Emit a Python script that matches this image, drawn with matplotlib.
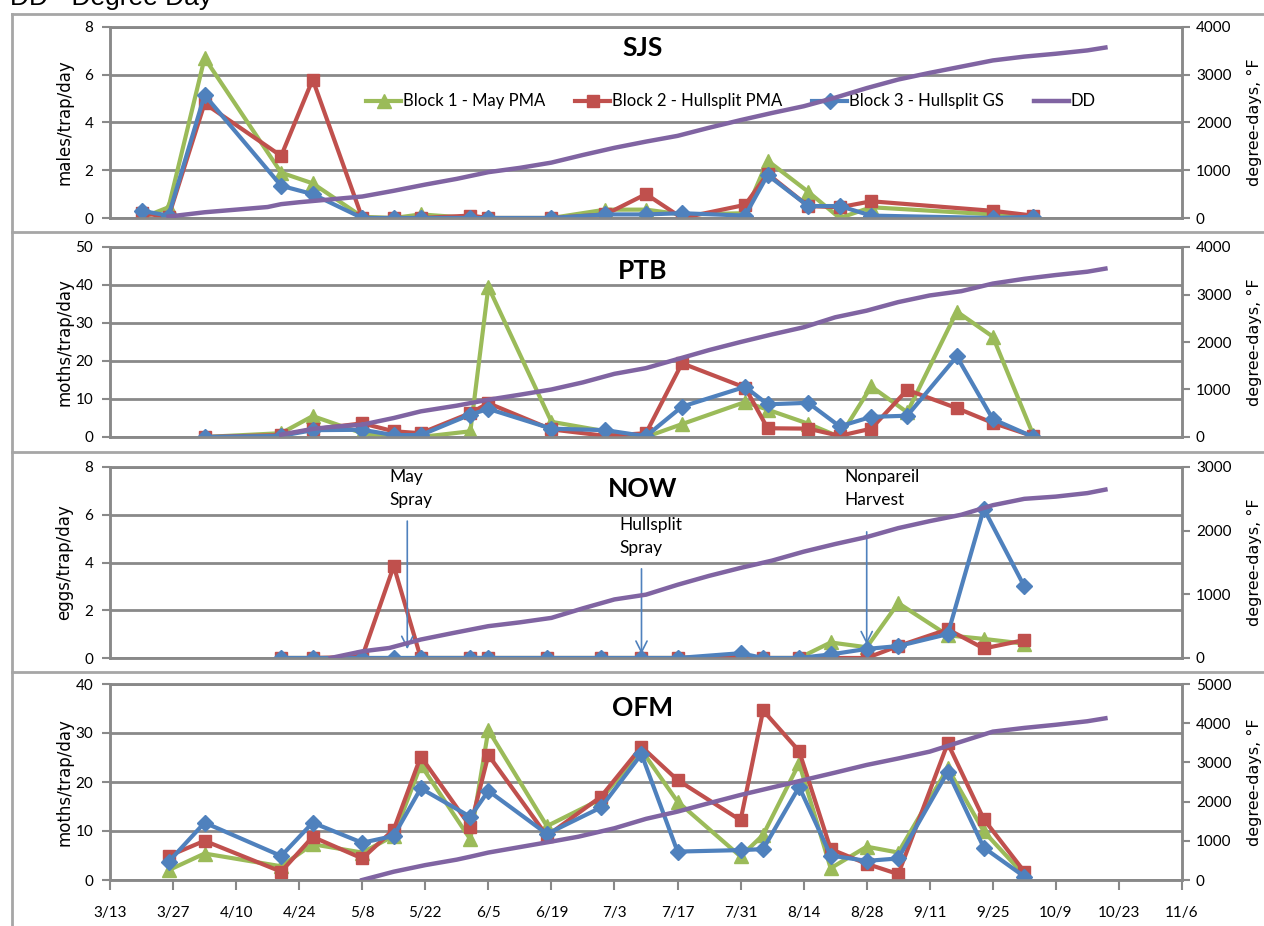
import numpy as np
import pandas as pd
import matplotlib
matplotlib.use("Agg")
import matplotlib.pyplot as plt
from matplotlib.lines import Line2D

YEAR = 2010

# ---- SJS (males/trap/day) ----
sjs_dates = ["3/20", "3/26", "4/3", "4/20", "4/27", "5/8", "5/15", "5/21", "6/1", "6/5", "6/19",
             "7/1", "7/10", "7/18", "8/1", "8/6", "8/15", "8/22", "8/29", "9/25", "10/4"]
sjs_b1 = [0.0, 0.45, 6.7, 1.9, 1.45, 0.05, 0.0, 0.15, 0.0, 0.0, 0.0,
          0.35, 0.35, 0.15, 0.2, 2.4, 1.1, 0.0, 0.45, 0.15, 0.1]
sjs_b2 = [0.2, 0.05, 4.8, 2.6, 5.8, 0.0, 0.0, 0.0, 0.1, 0.0, 0.0,
          0.15, 1.0, 0.0, 0.55, 1.85, 0.5, 0.45, 0.7, 0.3, 0.1]
sjs_b3 = [0.3, 0.1, 5.15, 1.35, 1.0, 0.0, 0.0, 0.0, 0.0, 0.0, 0.0,
          0.15, 0.15, 0.2, 0.1, 1.8, 0.5, 0.5, 0.1, 0.0, 0.05]
sjs_dd_dates = ["3/26", "4/3", "4/10", "4/17", "4/20", "4/24", "5/1", "5/8", "5/15", "5/22", "5/29",
                "6/5", "6/12", "6/19", "6/26", "7/3", "7/10", "7/17", "7/24", "7/31", "8/7", "8/14",
                "8/21", "8/28", "9/4", "9/11", "9/18", "9/25", "10/2", "10/9", "10/16", "10/20"]
sjs_dd = [30, 120, 175, 230, 290, 330, 390, 450, 570, 700, 820,
          960, 1050, 1160, 1320, 1470, 1600, 1720, 1890, 2050, 2200, 2340,
          2520, 2720, 2900, 3040, 3170, 3300, 3380, 3440, 3510, 3570]

# ---- PTB (moths/trap/day) ----
ptb_dates = ["4/3", "4/20", "4/27", "5/8", "5/15", "5/21", "6/1", "6/5", "6/19", "7/1", "7/10",
             "7/18", "8/1", "8/6", "8/15", "8/22", "8/29", "9/6", "9/17", "9/25", "10/4"]
ptb_b1 = [0.0, 1.0, 5.5, 1.0, 0.0, 0.0, 1.5, 39.5, 4.0, 1.5, 0.0,
          3.4, 9.2, 7.2, 3.5, 0.0, 13.3, 6.5, 33.0, 26.4, 0.5]
ptb_b2 = [0.0, 0.5, 2.0, 3.6, 1.5, 1.0, 6.3, 8.9, 2.0, 0.3, 1.0,
          19.4, 13.0, 2.3, 2.2, 0.3, 2.2, 12.4, 7.6, 3.7, 0.2]
ptb_b3 = [0.0, 0.3, 1.8, 1.9, 0.5, 0.5, 5.9, 7.4, 2.2, 1.8, 0.2,
          8.0, 13.2, 8.6, 9.0, 2.8, 5.3, 5.6, 21.2, 4.7, 0.0]
ptb_dd_dates = ["4/20", "4/27", "5/1", "5/8", "5/15", "5/21", "5/29", "6/5", "6/12", "6/19", "6/26",
                "7/3", "7/10", "7/17", "7/24", "7/31", "8/7", "8/14", "8/21", "8/28", "9/4", "9/11",
                "9/18", "9/25", "10/2", "10/9", "10/16", "10/20"]
ptb_dd = [50, 170, 210, 260, 400, 540, 660, 785, 890, 1000, 1150,
          1330, 1450, 1640, 1830, 2000, 2160, 2310, 2520, 2660, 2840, 2980,
          3070, 3230, 3330, 3410, 3480, 3545]

# ---- NOW (eggs/trap/day) ----
now_dates = ["4/20", "4/27", "5/8", "5/15", "5/21", "6/1", "6/5", "6/18", "6/30", "7/9",
             "7/17", "7/31", "8/5", "8/13", "8/20", "8/28", "9/4", "9/15", "9/23", "10/2"]
now_b1 = [0, 0, 0, 0, 0, 0, 0, 0, 0, 0, 0, 0.1, 0, 0, 0.65, 0.45, 2.3, 0.95, 0.8, 0.6]
now_b2 = [0, 0, 0.05, 3.85, 0, 0, 0, 0, 0, 0, 0, 0.05, 0, 0, 0, 0, 0.5, 1.2, 0.4, 0.75]
now_b3 = [0, 0, 0, 0, 0, 0, 0, 0, 0, 0, 0, 0.2, 0, 0, 0.15, 0.38, 0.5, 1.0, 6.25, 3.0]
now_dd_dates = ["5/1", "5/8", "5/14", "5/21", "5/28", "6/1", "6/5", "6/12", "6/19", "6/26", "7/3",
                "7/10", "7/17", "7/24", "7/31", "8/7", "8/14", "8/21", "8/28", "9/4", "9/11",
                "9/18", "9/25", "10/2", "10/9", "10/16", "10/20"]
now_dd = [0, 105, 157, 290, 390, 445, 500, 560, 630, 780, 920,
          995, 1150, 1290, 1415, 1530, 1670, 1790, 1900, 2040, 2150,
          2250, 2400, 2500, 2535, 2590, 2645]
# (text, arrow date, arrow top, arrow bottom, text date, text y)
now_notes = [("May\nSpray", "5/18", 5.85, 0.25, "5/14", 7.9),
             ("Hullsplit\nSpray", "7/9", 3.85, 0.05, "7/4", 5.9),
             ("Nonpareil\nHarvest", "8/28", 5.4, 0.45, "8/23", 7.9)]

# ---- OFM (moths/trap/day) ----
ofm_dates = ["3/26", "4/3", "4/20", "4/27", "5/8", "5/15", "5/21", "6/1", "6/5", "6/18", "6/30",
             "7/9", "7/17", "7/31", "8/5", "8/13", "8/20", "8/28", "9/4", "9/15", "9/23", "10/2"]
ofm_b1 = [2.0, 5.4, 2.8, 7.3, 5.6, 9.0, 23.5, 8.3, 30.6, 11.0, 16.5,
          26.5, 16.0, 4.8, 9.2, 23.8, 2.4, 6.8, 5.6, 22.8, 9.9, 1.0]
ofm_b2 = [4.9, 8.0, 1.7, 8.8, 4.4, 10.3, 25.2, 10.9, 25.5, 9.0, 17.0,
          27.2, 20.4, 12.2, 34.6, 26.3, 6.3, 3.3, 1.2, 27.9, 12.4, 1.7]
ofm_b3 = [3.7, 11.7, 4.9, 11.7, 7.6, 9.0, 18.7, 12.9, 18.2, 9.4, 14.8,
          25.7, 5.8, 6.1, 6.3, 19.0, 5.0, 3.9, 4.4, 22.1, 6.6, 0.7]
ofm_dd_dates = ["5/8", "5/15", "5/22", "5/29", "6/1", "6/5", "6/12", "6/19", "6/25", "7/3", "7/10",
                "7/17", "7/24", "7/31", "8/7", "8/14", "8/21", "8/28", "9/4", "9/11", "9/18",
                "9/25", "10/2", "10/9", "10/16", "10/20"]
ofm_dd = [0, 212, 380, 520, 595, 700, 840, 980, 1105, 1320, 1560,
          1745, 1960, 2170, 2360, 2550, 2740, 2935, 3100, 3275, 3530,
          3785, 3880, 3960, 4050, 4125]

series_names = ["Block 1 - May PMA", "Block 2 - Hullsplit PMA", "Block 3 - Hullsplit GS", "DD"]

GREEN, RED, BLUE, PURPLE = "#9bbb59", "#c0504d", "#4f81bd", "#8064a2"
GRAY = "#898989"
BODY = "Lato"


def d(md):
    return pd.to_datetime([f"{YEAR}/{s}" for s in md], format="%Y/%m/%d")


W, H = 1264, 926
LEFT, RIGHT = 110, 1182
fig = plt.figure(figsize=(W / 100, H / 100), dpi=100)


def px_axes(top, bottom):
    return fig.add_axes([LEFT / W, 1 - bottom / H, (RIGHT - LEFT) / W, (bottom - top) / H])


def ax_x(px):
    return (px - LEFT) / (RIGHT - LEFT)


xmin, xmax = pd.Timestamp(f"{YEAR}-03-13"), pd.Timestamp(f"{YEAR}-11-06")
xticks = pd.date_range(xmin, xmax, freq="14D")


def panel(ax, dates, b1, b2, b3, dd_dates, dd, ymax, ystep, ddmax, ylabel, title, title_y):
    x = d(dates)
    h1, = ax.plot(x, b1, color=GREEN, lw=3, marker="^", ms=10, mec=GREEN, zorder=3)
    h2, = ax.plot(x, b2, color=RED, lw=3, marker="s", ms=9, mec=RED, zorder=4)
    h3, = ax.plot(x, b3, color=BLUE, lw=3, marker="D", ms=8, mec=BLUE, zorder=5)
    ax.set_xlim(xmin, xmax)
    ax.set_ylim(0, ymax)
    ax.set_yticks(np.arange(0, ymax + ystep / 2, ystep))
    ax.yaxis.grid(True, color=GRAY, lw=2)
    ax.set_axisbelow(True)
    for s in ax.spines.values():
        s.set_color(GRAY)
        s.set_linewidth(1.8)
    ax.tick_params(axis="y", length=6, width=1.5, color=GRAY, labelsize=11, pad=6)
    ax.set_ylabel(ylabel, fontsize=12, family="DejaVu Sans")
    ax.yaxis.set_label_coords(ax_x(73), 0.5)
    for lab in ax.get_yticklabels():
        lab.set_family(BODY)

    ax2 = ax.twinx()
    h4, = ax2.plot(d(dd_dates), dd, color=PURPLE, lw=3.2, zorder=6)
    ax2.set_ylim(0, ddmax)
    ax2.set_yticks(np.arange(0, ddmax + 1, 1000))
    for s in ax2.spines.values():
        s.set_color(GRAY)
        s.set_linewidth(1.8)
    ax2.tick_params(axis="y", length=6, width=1.5, color=GRAY, labelsize=11, pad=4)
    for lab in ax2.get_yticklabels():
        lab.set_family(BODY)
    ax2.set_ylabel("degree-days, °F", fontsize=11.5, family="DejaVu Sans", rotation=90)
    ax2.yaxis.set_label_coords(ax_x(1247), 0.5)

    ax.text(ax_x(643), title_y, title, transform=ax.transAxes, ha="center", va="center",
            fontsize=19, fontweight="bold", family=BODY)
    return ax2, [h1, h2, h3, h4]


ax1 = px_axes(27, 218)
ax2 = px_axes(247, 437)
ax3 = px_axes(467, 658)
ax4 = px_axes(684, 880)

t1, handles = panel(ax1, sjs_dates, sjs_b1, sjs_b2, sjs_b3, sjs_dd_dates, sjs_dd,
                    8, 2, 4000, "males/trap/day", "SJS", 0.89)
panel(ax2, ptb_dates, ptb_b1, ptb_b2, ptb_b3, ptb_dd_dates, ptb_dd,
      50, 10, 4000, "moths/trap/day", "PTB", 0.875)
t3, _ = panel(ax3, now_dates, now_b1, now_b2, now_b3, now_dd_dates, now_dd,
              8, 2, 3000, "eggs/trap/day", "NOW", 0.885)
panel(ax4, ofm_dates, ofm_b1, ofm_b2, ofm_b3, ofm_dd_dates, ofm_dd,
      40, 10, 5000, "moths/trap/day", "OFM", 0.88)

for ax in (ax1, ax2, ax3):
    ax.tick_params(axis="x", bottom=False, labelbottom=False)

ax4.set_xticks(xticks)
ax4.set_xticklabels([f"{t.month}/{t.day}" for t in xticks], family=BODY, fontsize=11)
ax4.tick_params(axis="x", length=7, width=1.5, color=GRAY, pad=12)

t1.legend(handles, series_names, loc="center", bbox_to_anchor=(ax_x(731), 0.61), ncol=4,
          frameon=False, handlelength=2.1, handletextpad=0.1, columnspacing=1.8,
          prop={"family": BODY, "size": 12})

# NOW annotations
for text, adate, ytop, ybot, tdate, ty in now_notes:
    xa = d([adate])[0]
    ax3.annotate("", xy=(xa, ybot), xytext=(xa, ytop),
                 arrowprops=dict(arrowstyle="->", color=BLUE, lw=1.2, mutation_scale=20),
                 zorder=7)
    ax3.text(d([tdate])[0], ty, text, ha="left", va="top", fontsize=12.5,
             family=BODY, linespacing=1.5, zorder=7)

# chart borders
bc = "#a6a6a6"
for yb in (14, 232, 452, 672):
    fig.add_artist(Line2D([12 / W, 1], [1 - yb / H] * 2, color=bc, lw=2))
fig.add_artist(Line2D([12 / W] * 2, [0, 1 - 14 / H], color=bc, lw=2))

fig.text(10 / W, 1 - 5 / H, "DD - Degree Day", fontsize=19, family="Liberation Sans",
         va="baseline", ha="left")

fig.savefig("out.png", dpi=100)
